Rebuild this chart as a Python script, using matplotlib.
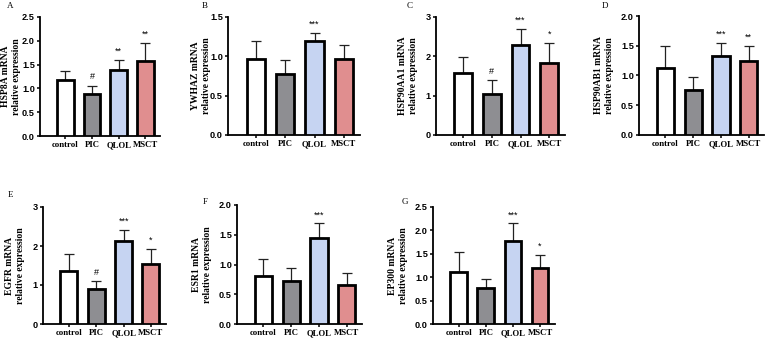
import matplotlib
matplotlib.use("Agg")
import matplotlib.pyplot as plt

groups = ["control", "PIC", "QLOL", "MSCT"]
colors = ["#ffffff", "#8e8e92", "#c6d4f2", "#e08e8f"]

genes = ["HSP8A", "YWHAZ", "HSP90AA1", "HSP90AB1", "EGFR", "ESR1", "EP300"]
panel_labels = ["A", "B", "C", "D", "E", "F", "G"]

means_hsp8a = [1.18, 0.88, 1.38, 1.58]
sd_hsp8a = [0.19, 0.18, 0.21, 0.37]
marks_hsp8a = ["", "#", "**", "**"]

means_ywhaz = [0.97, 0.78, 1.20, 0.97]
sd_ywhaz = [0.22, 0.17, 0.10, 0.17]
marks_ywhaz = ["", "", "***", ""]

means_hsp90aa1 = [1.58, 1.05, 2.28, 1.82]
sd_hsp90aa1 = [0.41, 0.35, 0.41, 0.51]
marks_hsp90aa1 = ["", "#", "***", "*"]

means_hsp90ab1 = [1.12, 0.76, 1.33, 1.25]
sd_hsp90ab1 = [0.38, 0.22, 0.22, 0.25]
marks_hsp90ab1 = ["", "", "***", "**"]

means_egfr = [1.37, 0.91, 2.14, 1.53]
sd_egfr = [0.43, 0.19, 0.28, 0.40]
marks_egfr = ["", "#", "***", "*"]

means_esr1 = [0.80, 0.73, 1.45, 0.65]
sd_esr1 = [0.30, 0.21, 0.24, 0.20]
marks_esr1 = ["", "", "***", ""]

means_ep300 = [1.11, 0.77, 1.77, 1.20]
sd_ep300 = [0.43, 0.20, 0.38, 0.28]
marks_ep300 = ["", "", "***", "*"]

yticks_list = [
    [0.0, 0.5, 1.0, 1.5, 2.0, 2.5],
    [0.0, 0.5, 1.0, 1.5],
    [0, 1, 2, 3],
    [0.0, 0.5, 1.0, 1.5, 2.0],
    [0, 1, 2, 3],
    [0.0, 0.5, 1.0, 1.5, 2.0],
    [0.0, 0.5, 1.0, 1.5, 2.0, 2.5],
]
int_ticks = [False, False, True, False, True, False, False]

all_means = [means_hsp8a, means_ywhaz, means_hsp90aa1, means_hsp90ab1,
             means_egfr, means_esr1, means_ep300]
all_sd = [sd_hsp8a, sd_ywhaz, sd_hsp90aa1, sd_hsp90ab1, sd_egfr, sd_esr1, sd_ep300]
all_marks = [marks_hsp8a, marks_ywhaz, marks_hsp90aa1, marks_hsp90ab1,
             marks_egfr, marks_esr1, marks_ep300]

# axes boxes in pixels: left, right, top, bottom
W, H = 765, 340
boxes = [
    (40, 160, 17, 136),
    (228, 360, 17, 135),
    (436, 565, 17, 135),
    (639, 764, 16, 135),
    (43, 166, 207, 324),
    (237, 362, 205, 324),
    (433, 555, 207, 324),
]
# distance (px) from y axis to the centre of the two-line y label
ylabel_offset = [29, 27, 28, 35, 28, 35, 35]
label_pos = [(7, 6), (202, 6), (407, 6), (602, 6), (8, 195), (203, 202), (402, 202)]

serif = "Liberation Serif"
sans = "Liberation Sans"

fig = plt.figure(figsize=(W / 100, H / 100), dpi=100)

for i in range(7):
    l, r, t, b = boxes[i]
    ax = fig.add_axes([l / W, 1 - b / H, (r - l) / W, (b - t) / H])
    x = range(len(groups))
    ax.bar(x, all_means[i], width=0.62, color=colors, edgecolor="black",
           linewidth=2.0, zorder=3)
    ax.errorbar(x, all_means[i], yerr=[[0] * 4, all_sd[i]], fmt="none",
                ecolor="#222222", elinewidth=0.9, capsize=3.5, capthick=0.9, zorder=2)
    ymax = yticks_list[i][-1]
    for j in range(4):
        if all_marks[i][j]:
            top = all_means[i][j] + all_sd[i][j]
            ax.text(j, top + ymax * 0.035, all_marks[i][j], ha="center", va="bottom",
                    fontsize=6.5, family=sans)
    ax.set_ylim(0, ymax)
    ax.set_xlim(-0.95, 3.55)
    ax.set_yticks(yticks_list[i])
    if int_ticks[i]:
        ax.set_yticklabels([str(int(v)) for v in yticks_list[i]])
    else:
        ax.set_yticklabels([f"{v:.1f}" for v in yticks_list[i]])
    ax.set_xticks(list(x))
    ax.set_xticklabels(groups, fontfamily=serif, fontweight="bold", fontsize=6.3)
    for lab in ax.get_yticklabels():
        lab.set_fontfamily(sans)
        lab.set_fontweight("bold")
        lab.set_fontsize(6.6)
    ax.tick_params(axis="both", length=2.5, width=1.1, pad=1.2)
    ax.spines["top"].set_visible(False)
    ax.spines["right"].set_visible(False)
    ax.spines["left"].set_linewidth(1.3)
    ax.spines["bottom"].set_linewidth(1.3)
    ax.set_ylabel(f"{genes[i]} mRNA\nrelative expression", fontfamily=serif,
                  fontweight="bold", fontsize=6.9, linespacing=1.35)
    ax.yaxis.label.set_verticalalignment("center")
    ax.yaxis.set_label_coords(-ylabel_offset[i] / (r - l), 0.5)
    lx, ly = label_pos[i]
    fig.text(lx / W, 1 - ly / H, panel_labels[i], fontfamily=serif, fontsize=6.5,
             ha="left", va="center")

fig.savefig("out.png", dpi=100)
